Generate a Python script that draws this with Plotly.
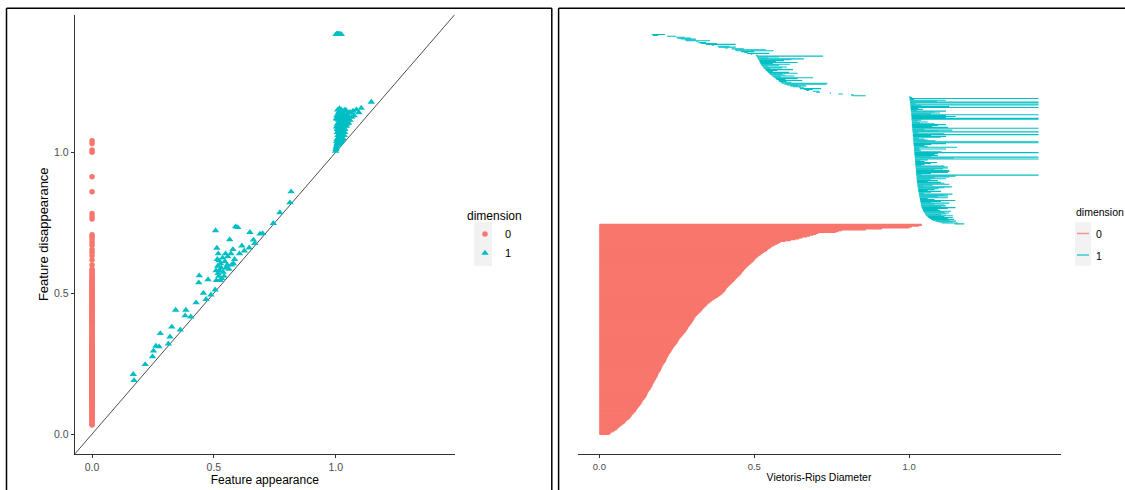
import numpy as np
import plotly.graph_objects as go

# ---------------- data ----------------
dim0_death = [0.032, 0.036, 0.038, 0.045, 0.050, 0.055, 0.058, 0.060, 0.064, 0.068, 0.071, 0.075, 0.079, 0.083, 0.085,
              0.087, 0.091, 0.095, 0.098, 0.101, 0.103, 0.104, 0.107, 0.110, 0.113, 0.116, 0.118, 0.120, 0.121, 0.124,
              0.126, 0.128, 0.131, 0.133, 0.135, 0.137, 0.138, 0.140, 0.142, 0.145, 0.147, 0.149, 0.151, 0.153, 0.154,
              0.155, 0.156, 0.158, 0.160, 0.162, 0.164, 0.166, 0.168, 0.169, 0.171, 0.172, 0.173, 0.175, 0.177, 0.178,
              0.180, 0.182, 0.183, 0.185, 0.187, 0.188, 0.189, 0.190, 0.192, 0.194, 0.196, 0.197, 0.199, 0.200, 0.201,
              0.203, 0.204, 0.206, 0.208, 0.210, 0.212, 0.214, 0.215, 0.217, 0.218, 0.219, 0.221, 0.222, 0.224, 0.226,
              0.228, 0.230, 0.232, 0.233, 0.235, 0.237, 0.239, 0.241, 0.243, 0.246, 0.248, 0.250, 0.252, 0.254, 0.255,
              0.257, 0.259, 0.262, 0.264, 0.267, 0.269, 0.272, 0.274, 0.277, 0.279, 0.281, 0.283, 0.285, 0.286, 0.288,
              0.290, 0.292, 0.295, 0.297, 0.299, 0.301, 0.303, 0.305, 0.306, 0.308, 0.310, 0.312, 0.315, 0.318, 0.321,
              0.324, 0.327, 0.330, 0.332, 0.334, 0.337, 0.340, 0.343, 0.346, 0.349, 0.352, 0.356, 0.359, 0.363, 0.368,
              0.372, 0.376, 0.381, 0.385, 0.390, 0.394, 0.397, 0.400, 0.403, 0.406, 0.408, 0.409, 0.411, 0.414, 0.417,
              0.420, 0.423, 0.426, 0.429, 0.432, 0.435, 0.438, 0.440, 0.443, 0.446, 0.449, 0.452, 0.455, 0.458, 0.460,
              0.461, 0.464, 0.467, 0.469, 0.472, 0.475, 0.478, 0.481, 0.484, 0.488, 0.491, 0.495, 0.498, 0.500, 0.502,
              0.505, 0.509, 0.512, 0.516, 0.520, 0.524, 0.528, 0.532, 0.537, 0.541, 0.545, 0.549, 0.553, 0.557, 0.563,
              0.568, 0.574, 0.579, 0.585, 0.600, 0.618, 0.633, 0.645, 0.655, 0.670, 0.680, 0.690, 0.700, 0.707, 0.763,
              0.772, 0.783, 0.860, 0.913, 1.000, 1.008, 1.031, 1.041]

# dimension-1 features: loops born below 0.9
dim1_birth_low = [0.169, 0.172, 0.218, 0.248, 0.252, 0.262, 0.275, 0.280, 0.313, 0.320, 0.327, 0.343, 0.362, 0.382,
                  0.385, 0.405, 0.427, 0.438, 0.440, 0.457, 0.468, 0.476, 0.488, 0.505, 0.507,
                  0.509, 0.510, 0.512, 0.514, 0.516, 0.517, 0.518, 0.520, 0.521, 0.523, 0.526, 0.527, 0.530, 0.532,
                  0.536, 0.538, 0.542, 0.545, 0.548, 0.550, 0.555, 0.557, 0.562, 0.565, 0.570, 0.572, 0.578, 0.580,
                  0.585, 0.589, 0.598, 0.605, 0.615, 0.625, 0.645, 0.648, 0.662, 0.668, 0.689, 0.700, 0.744, 0.771,
                  0.812, 0.817]
dim1_death_low = [0.212, 0.190, 0.247, 0.275, 0.295, 0.312, 0.310, 0.357, 0.320, 0.345, 0.380, 0.440, 0.370, 0.420,
                  0.440, 0.416, 0.466, 0.537, 0.562, 0.500, 0.478, 0.548, 0.494, 0.512, 0.722,
                  0.580, 0.545, 0.660, 0.620, 0.596, 0.570, 0.640, 0.560, 0.615, 0.580, 0.545, 0.605, 0.590, 0.552,
                  0.625, 0.575, 0.560, 0.612, 0.640, 0.590, 0.600, 0.630, 0.585, 0.690, 0.640, 0.600, 0.655, 0.605,
                  0.620, 0.736, 0.733, 0.640, 0.668, 0.650, 0.661, 0.716, 0.689, 0.677, 0.710, 0.712, 0.748, 0.786,
                  0.821, 0.860]

# dimension-1 features: loops born around 1.0
dim1_birth_high = [1.000, 1.001, 1.002, 1.002, 1.002, 1.003, 1.003, 1.004, 1.004, 1.004, 1.005, 1.005, 1.005, 1.006,
                   1.006, 1.006, 1.007, 1.007, 1.007, 1.008, 1.008, 1.008, 1.008, 1.009, 1.009, 1.009, 1.009, 1.009,
                   1.009, 1.010, 1.010, 1.010, 1.011, 1.011, 1.012, 1.012, 1.012, 1.012, 1.013, 1.013, 1.013, 1.013,
                   1.014, 1.014, 1.014, 1.015, 1.015, 1.015, 1.016, 1.016, 1.016, 1.016, 1.017, 1.017, 1.017, 1.018,
                   1.018, 1.018, 1.019, 1.019, 1.019, 1.019, 1.020, 1.020, 1.020, 1.021, 1.021, 1.021, 1.022, 1.022,
                   1.022, 1.023, 1.023, 1.023, 1.023, 1.024, 1.024, 1.024, 1.025, 1.025, 1.026, 1.026, 1.027, 1.027,
                   1.028, 1.028, 1.029, 1.030, 1.030, 1.031, 1.031, 1.032, 1.033, 1.033, 1.034, 1.035, 1.036, 1.036,
                   1.037, 1.038, 1.038, 1.039, 1.040, 1.042, 1.044, 1.046, 1.048, 1.050, 1.053, 1.056, 1.059, 1.062,
                   1.066, 1.071, 1.076, 1.085, 1.095, 1.105, 1.146,
                   1.003, 1.005, 1.007, 1.008, 1.010, 1.011, 1.013, 1.014, 1.016, 1.017, 1.019, 1.020, 1.022, 1.024,
                   1.025, 1.027, 1.029, 1.032, 1.035, 1.038, 1.041, 1.045, 1.052]
dim1_death_high = [1.004, 1.010, 1.119, 1.016, 1.418, 1.418, 1.418, 1.039, 1.418, 1.021, 1.045, 1.030, 1.418, 1.082,
                   1.119, 1.026, 1.119, 1.418, 1.071, 1.039, 1.418, 1.418, 1.119, 1.093, 1.119, 1.082, 1.035, 1.060,
                   1.028, 1.050, 1.418, 1.125, 1.418, 1.093, 1.071, 1.418, 1.114, 1.030, 1.060, 1.050, 1.032, 1.103,
                   1.119, 1.418, 1.418, 1.060, 1.050, 1.071, 1.039, 1.034, 1.119, 1.033, 1.082, 1.093, 1.418, 1.418,
                   1.071, 1.093, 1.050, 1.036, 1.060, 1.418, 1.039, 1.050, 1.071, 1.125, 1.125, 1.114, 1.130, 1.130,
                   1.082, 1.418, 1.040, 1.071, 1.125, 1.119, 1.082, 1.130, 1.060, 1.093, 1.114, 1.103, 1.045, 1.076,
                   1.114, 1.138, 1.082, 1.103, 1.060, 1.048, 1.071, 1.114, 1.093, 1.125, 1.125, 1.082, 1.103, 1.149,
                   1.071, 1.114, 1.082, 1.119, 1.103, 1.125, 1.093, 1.135, 1.114, 1.130, 1.103, 1.141, 1.114, 1.141,
                   1.125, 1.146, 1.130, 1.151, 1.141, 1.157, 1.178,
                   1.090, 1.130, 1.100, 1.150, 1.075, 1.140, 1.120, 1.085, 1.155, 1.105, 1.145, 1.090, 1.110, 1.150,
                   1.070, 1.130, 1.095, 1.140, 1.060, 1.130, 1.150, 1.100, 1.120]

dimension_labels = ["0", "1"]
legend_title = "dimension"
tick_vals = [0.0, 0.5, 1.0]
tick_text = ["0.0", "0.5", "1.0"]

# ---------------- styling ----------------
RED = "#F8766D"
CYAN = "#00BFC4"
KEYBG = "#F2F2F2"
W, H = 1125, 490
FONT = "Liberation Sans, Arial, sans-serif"

dim0_death = np.array(dim0_death)
dim0_birth = np.zeros_like(dim0_death)
dim1_birth = np.array(dim1_birth_low + dim1_birth_high)
dim1_death = np.array(dim1_death_low + dim1_death_high)

# both axes limited to [0, max death], expanded 5 %
top = max(dim0_death.max(), dim1_death.max())
rng = [0 - 0.05 * top, top + 0.05 * top]

# barcode ordering
o0 = np.argsort(dim0_death, kind="stable")
o1 = np.argsort(-dim1_birth, kind="stable")
n0, n1 = len(dim0_death), len(dim1_birth)
pos0 = np.arange(1, n0 + 1)
pos1 = np.arange(n0 + 1, n0 + n1 + 1)
N = n0 + n1
yr = [1 - 0.05 * (N - 1), N + 0.05 * (N - 1)]


def segs(b, d, pos):
    xs, ys = [], []
    for bb, dd, p in zip(b, d, pos):
        xs += [bb, dd, None]
        ys += [p, p, None]
    return xs, ys


bx0, by0 = segs(dim0_birth[o0], dim0_death[o0], pos0)
bx1, by1 = segs(dim1_birth[o1], dim1_death[o1], pos1)

fig = go.Figure()
fig.add_trace(go.Scatter(x=rng, y=rng, mode="lines", line=dict(color="#222", width=0.8),
                         showlegend=False, hoverinfo="skip", xaxis="x", yaxis="y"))
fig.add_trace(go.Scatter(x=dim0_birth, y=dim0_death, mode="markers", name=dimension_labels[0],
                         marker=dict(symbol="circle", size=5.5, color=RED), legend="legend",
                         xaxis="x", yaxis="y"))
fig.add_trace(go.Scatter(x=dim1_birth, y=dim1_death, mode="markers", name=dimension_labels[1],
                         marker=dict(symbol="triangle-up", size=6.5, color=CYAN), legend="legend",
                         xaxis="x", yaxis="y"))
fig.add_trace(go.Scatter(x=bx0, y=by0, mode="lines", name=dimension_labels[0], showlegend=False,
                         line=dict(color=RED, width=2.2), xaxis="x2", yaxis="y2"))
fig.add_trace(go.Scatter(x=bx1, y=by1, mode="lines", name=dimension_labels[1], showlegend=False,
                         line=dict(color=CYAN, width=1.1), xaxis="x2", yaxis="y2"))

ydom = [(H - 454) / H, (H - 14.5) / H]
axis_common = dict(showline=True, linecolor="#333", linewidth=1.2, ticks="outside", ticklen=3,
                   tickcolor="#333", tickwidth=1, showgrid=False, zeroline=False,
                   tickvals=tick_vals, ticktext=tick_text)

fig.update_layout(
    width=W, height=H, autosize=False,
    margin=dict(l=0, r=0, t=0, b=0),
    paper_bgcolor="white", plot_bgcolor="white",
    font=dict(family=FONT, color="black"),
    xaxis=dict(domain=[74.8 / W, 454.8 / W], range=rng, anchor="y", **axis_common,
               tickfont=dict(size=10.5, color="#4D4D4D"),
               title=dict(text="Feature appearance", font=dict(size=12), standoff=3)),
    yaxis=dict(domain=ydom, range=rng, anchor="x", **axis_common,
               tickfont=dict(size=10.5, color="#4D4D4D"),
               title=dict(text="Feature disappearance", font=dict(size=13), standoff=2)),
    xaxis2=dict(domain=[577.5 / W, 1060.5 / W], range=rng, anchor="y2", **axis_common,
                tickfont=dict(size=9.5, color="#4D4D4D"),
                title=dict(text="Vietoris-Rips Diameter", font=dict(size=10.5), standoff=3)),
    yaxis2=dict(domain=ydom, range=yr, anchor="x2", visible=False),
    legend=dict(title=dict(text=legend_title, font=dict(size=12)), x=465 / W, xanchor="left",
                y=(H - 204) / H, yanchor="top", font=dict(size=11), itemwidth=30,
                bgcolor="rgba(0,0,0,0)", traceorder="normal"),
)


def px(x):
    return x / W


def py(y):
    return 1 - y / H


frame = dict(color="black", width=1.5)
shapes = [
    # legend key backgrounds
    dict(type="rect", xref="paper", yref="paper", x0=px(474), x1=px(492), y0=py(222), y1=py(266),
         fillcolor=KEYBG, line=dict(width=0), layer="below"),
    dict(type="rect", xref="paper", yref="paper", x0=px(1075), x1=px(1091), y0=py(222), y1=py(266),
         fillcolor=KEYBG, line=dict(width=0), layer="below"),
    # right legend line keys
    dict(type="line", xref="paper", yref="paper", x0=px(1077), x1=px(1089), y0=py(233.5), y1=py(233.5),
         line=dict(color=RED, width=1.5), opacity=0.75),
    dict(type="line", xref="paper", yref="paper", x0=px(1077), x1=px(1089), y0=py(255), y1=py(255),
         line=dict(color=CYAN, width=1.5), opacity=0.75),
    # panel frames
    dict(type="line", xref="paper", yref="paper", x0=px(6.5), x1=px(6.5), y0=py(8.3), y1=py(495), line=frame),
    dict(type="line", xref="paper", yref="paper", x0=px(551.8), x1=px(551.8), y0=py(8.3), y1=py(495), line=frame),
    dict(type="line", xref="paper", yref="paper", x0=px(6.5), x1=px(551.8), y0=py(8.3), y1=py(8.3), line=frame),
    dict(type="line", xref="paper", yref="paper", x0=px(558.6), x1=px(558.6), y0=py(8.3), y1=py(495), line=frame),
    dict(type="line", xref="paper", yref="paper", x0=px(558.6), x1=px(1130), y0=py(8.3), y1=py(8.3), line=frame),
]
annotations = [
    dict(text=legend_title, xref="paper", yref="paper", x=px(1074), y=py(212), xanchor="left", yanchor="middle",
         showarrow=False, font=dict(size=10.5, color="black")),
    dict(text=dimension_labels[0], xref="paper", yref="paper", x=px(1094), y=py(234), xanchor="left",
         yanchor="middle", showarrow=False, font=dict(size=10.5, color="black")),
    dict(text=dimension_labels[1], xref="paper", yref="paper", x=px(1094), y=py(255.5), xanchor="left",
         yanchor="middle", showarrow=False, font=dict(size=10.5, color="black")),
]
fig.update_layout(shapes=shapes, annotations=annotations)

fig.write_html("out.html")
